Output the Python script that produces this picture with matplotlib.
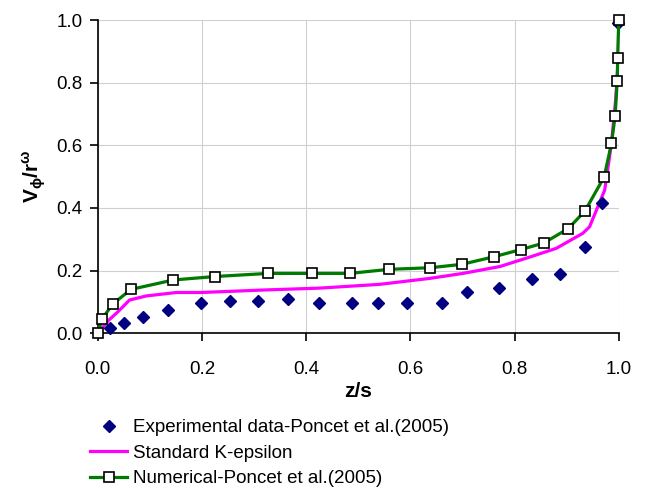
import numpy as np
import matplotlib.pyplot as plt

plt.rcParams['font.family'] = ['Liberation Sans', 'DejaVu Sans']
plt.rcParams['mathtext.fontset'] = 'custom'
plt.rcParams['mathtext.rm'] = 'Liberation Sans'
plt.rcParams['mathtext.bf'] = 'Liberation Sans:bold'

# experimental data (Poncet et al. 2005)
exp_z = [0.024, 0.051, 0.086, 0.135, 0.199, 0.253, 0.308, 0.366, 0.424, 0.488,
         0.537, 0.594, 0.660, 0.708, 0.770, 0.834, 0.888, 0.935, 0.967, 0.998]
exp_v = [0.016, 0.031, 0.052, 0.074, 0.098, 0.103, 0.103, 0.109, 0.098, 0.098,
         0.098, 0.098, 0.098, 0.132, 0.145, 0.172, 0.189, 0.274, 0.417, 0.991]

# standard k-epsilon
ke_z = [0.0, 0.02, 0.039, 0.061, 0.093, 0.151, 0.198, 0.259, 0.319, 0.426, 0.541,
        0.637, 0.701, 0.772, 0.829, 0.880, 0.931, 0.944, 0.973, 0.986, 0.994, 0.999, 1.0]
ke_v = [0.0, 0.04, 0.069, 0.106, 0.119, 0.130, 0.130, 0.134, 0.138, 0.144, 0.156,
        0.175, 0.191, 0.213, 0.243, 0.271, 0.319, 0.340, 0.457, 0.606, 0.745, 0.872, 1.0]

# numerical (Poncet et al. 2005)
num_z = [0.0, 0.008, 0.029, 0.064, 0.145, 0.225, 0.327, 0.411, 0.484, 0.559, 0.638,
         0.699, 0.760, 0.812, 0.856, 0.903, 0.935, 0.972, 0.986, 0.993, 0.997, 0.998, 1.0]
num_v = [0.0, 0.045, 0.094, 0.140, 0.170, 0.181, 0.191, 0.191, 0.191, 0.204, 0.209,
         0.220, 0.244, 0.267, 0.288, 0.334, 0.390, 0.499, 0.606, 0.693, 0.805, 0.880, 1.0]

fig = plt.figure(figsize=(6.52, 4.9), dpi=100)
ax = fig.add_axes([0.150, 0.320, 0.799, 0.639])

ax.plot(exp_z, exp_v, 'D', color='#000080', markersize=6.5, linestyle='none',
        label='Experimental data-Poncet et al.(2005)', zorder=3, clip_on=False)
ax.plot(ke_z, ke_v, '-', color='#FF00FF', lw=2.3, label='Standard K-epsilon', zorder=2)
ax.plot(num_z, num_v, '-s', color='#007A00', lw=2.3, markersize=7.5,
        markerfacecolor='white', markeredgecolor='black', markeredgewidth=1.2,
        label='Numerical-Poncet et al.(2005)', zorder=4, clip_on=False)

ax.set_xlim(0, 1.0)
ax.set_ylim(0, 1.0)
ax.set_xticks(np.arange(0, 1.01, 0.2))
ax.set_yticks(np.arange(0, 1.01, 0.2))
ax.set_xticklabels(['0.0', '0.2', '0.4', '0.6', '0.8', '1.0'])
ax.set_yticklabels(['0.0', '0.2', '0.4', '0.6', '0.8', '1.0'])
ax.tick_params(labelsize=13.5, length=6, width=1.2, direction='out', pad=14)
ax.tick_params(axis='y', pad=5)
ax.grid(True, color='#d0d0d0', lw=0.8)
ax.set_axisbelow(True)
for s in ['top', 'right']:
    ax.spines[s].set_visible(False)
for s in ['left', 'bottom']:
    ax.spines[s].set_linewidth(1.2)

ax.set_xlabel('z/s', fontsize=15, fontweight='bold', labelpad=3)
ax.set_ylabel(r'V$_{\mathbf{\phi}}$/r$^{\mathbf{\omega}}$', fontsize=15,
              fontweight='bold', labelpad=6)

fig.legend(*ax.get_legend_handles_labels(), loc='upper left',
           bbox_to_anchor=(0.138, 0.145), frameon=False,
           fontsize=13.5, handlelength=2.0, handletextpad=0.3, labelspacing=0.45,
           borderaxespad=0, borderpad=0)

fig.savefig('out.png', dpi=100)
